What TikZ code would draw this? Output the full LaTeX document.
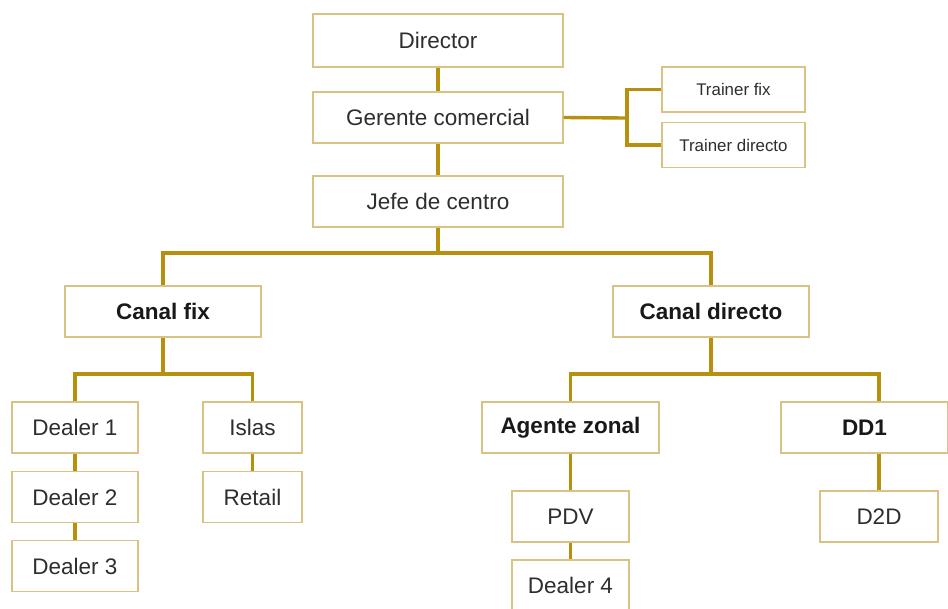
\documentclass[tikz,border=0pt]{standalone}
\usepackage{fontspec}
\setmainfont{Liberation Sans}
\usepackage{xcolor}
\usetikzlibrary{calc}
\usetikzlibrary{positioning}

\definecolor{gold}{HTML}{B8900F}
\definecolor{paleGold}{HTML}{D9C384}
\definecolor{inkGray}{HTML}{2E2E2E}

\begin{document}
\begin{tikzpicture}[x=0.025cm, y=-0.025cm,
    box/.style={draw=paleGold, line width=0.8pt, fill=white, inner sep=0pt,
      minimum height=1.275cm, text=inkGray,
      font=\fontsize{16}{19}\selectfont},
    bbox/.style={box, text=black!90, font=\fontsize{16}{19}\selectfont\bfseries},
    sbox/.style={box, minimum height=1.125cm, font=\fontsize{12}{14}\selectfont},
    link/.style={draw=gold, line width=2.4pt}]

    \useasboundingbox (0, 0) rectangle (948, 608);
    \clip (0, 0) rectangle (948, 608);

    \node[box, minimum width=6.25cm, minimum height=1.325cm] (dir) at (438, 40.5) {Director};
    \node[box, minimum width=6.25cm] (ger) at (438, 117.5) {Gerente comercial};
    \node[box, minimum width=6.25cm] (jefe) at (438, 201.5) {Jefe de centro};
    \node[sbox, minimum width=3.575cm] (tfix) at (733.5, 89.5) {Trainer fix};
    \node[sbox, minimum width=3.575cm] (tdir) at (733.5, 145) {Trainer directo};

    \node[bbox, minimum width=4.9cm] (cfix) at (163, 311.5) {Canal fix};
    \node[bbox, minimum width=4.9cm] (cdir) at (711, 311.5) {Canal directo};

    \node[box, minimum width=3.15cm] (dl1) at (75, 427.5) {Dealer 1};
    \node[box, minimum width=3.15cm] (dl2) at (75, 497) {Dealer 2};
    \node[box, minimum width=3.15cm] (dl3) at (75, 566) {Dealer 3};
    \node[box, minimum width=2.475cm] (islas) at (252.5, 427.5) {Islas};
    \node[box, minimum width=2.475cm] (retail) at (252.5, 497) {Retail};

    \node[bbox, minimum width=4.425cm] (agz) at (570.5, 427.5) {Agente zonal};
    \node[bbox, minimum width=4.175cm] (dd1) at (864.5, 427.5) {DD1};
    \node[box, minimum width=2.925cm] (pdv) at (570.5, 516.5) {PDV};
    \node[box, minimum width=2.925cm] (dl4) at (570.5, 585.5) {Dealer 4};
    \node[box, minimum width=2.95cm] (d2d) at (879, 516.5) {D2D};

    \coordinate (gerJ) at (627, 118);
    \coordinate (jefeJ) at (438, 253);
    \coordinate (cfixJ) at (163, 374);
    \coordinate (cdirJ) at (711, 374);

    \begin{scope}
      \draw[link] (dir) -- (ger);
      \draw[link] (ger) -- (jefe);
      \draw[link] (ger.east) -- (gerJ);
      \draw[link] (tfix.west) -| (gerJ) |- (tdir.west);

      \draw[link] (jefe.south) -- (jefeJ);
      \draw[link] (cfix.north) |- (jefeJ) -| (cdir.north);

      \draw[link] (cfix.south) -- (cfixJ);
      \draw[link] (dl1.north) |- (cfixJ) -| (islas.north);
      \draw[link] (dl1) -- (dl2);
      \draw[link] (dl2) -- (dl3);
      \draw[link] (islas) -- (retail);

      \draw[link] (cdir.south) -- (cdirJ);
      \draw[link] (agz.north) |- (cdirJ) -| (d2d.north |- dd1.north);
      \draw[link] (agz) -- (pdv);
      \draw[link] (pdv) -- (dl4);
      \draw[link] (d2d.north |- dd1.south) -- (d2d.north);
    \end{scope}

  \end{tikzpicture}
\end{document}
